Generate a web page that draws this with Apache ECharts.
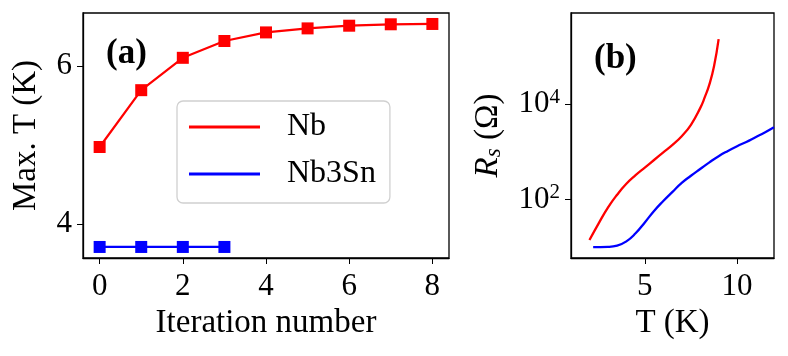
<!DOCTYPE html>
<html>
<head>
<meta charset="utf-8">
<script src="https://cdn.jsdelivr.net/npm/echarts@6/dist/echarts.min.js"></script>
<style>
  html, body { margin: 0; padding: 0; background: #fff; }
  #chart { width: 788px; height: 356px; }
</style>
</head>
<body>
<div id="chart"></div>
<script>
// (a) max temperature per iteration
var iterations = [0, 1, 2, 3, 4, 5, 6, 7, 8];
var maxTNb = [4.975, 5.695, 6.105, 6.318, 6.427, 6.478, 6.512, 6.530, 6.534];
var maxTNb3Sn = [3.708, 3.708, 3.708, 3.708];

// (b) surface resistance vs temperature
var tempNb = [2.0, 2.5, 3.0, 3.5, 4.0, 4.5, 5.0, 5.5, 6.0, 6.5, 7.0, 7.5, 8.0, 8.25, 8.5, 8.75, 9.0];
var rsNb = [14.1, 31.6, 67.6, 126, 214, 324, 468, 676, 977, 1413, 2138, 3715, 8318, 14125, 26300, 63100, 234000];
var tempNb3Sn = [2.2, 3.0, 3.5, 4.0, 4.5, 5.0, 5.5, 6.0, 6.5, 7.0, 7.5, 8.0, 8.5, 9.0, 9.5, 10.0, 10.5, 11.0, 11.5, 12.0];
var rsNb3Sn = [10, 10.1, 10.7, 13.2, 19.5, 33, 57.5, 93, 145, 224, 316, 437, 603, 813, 1047, 1318, 1622, 2042, 2570, 3311];

var xTicksA = [0, 2, 4, 6, 8];
var yTicksA = [4, 6];
var xTicksB = [5, 10];
var yTicksB = [100, 10000];

function pairs(xs, ys) {
  return ys.map(function (v, i) { return [xs[i], v]; });
}

var FONT = 'Liberation Serif';

function initChart() {
  var myChart = echarts.init(document.getElementById('chart'));
  var nameStyle = { fontSize: 33, fontFamily: FONT, color: '#000' };
  var tickLabel = { fontSize: 31, fontFamily: FONT, color: '#000' };
  var option = {
    animation: false,
    textStyle: { fontFamily: FONT, color: '#000' },
    grid: [
      { left: 83, top: 13, width: 366, height: 245, show: true, borderColor: '#000', borderWidth: 1.3 },
      { left: 571, top: 13, width: 203, height: 245, show: true, borderColor: '#000', borderWidth: 1.3 }
    ],
    xAxis: [
      {
        type: 'value', gridIndex: 0, min: -0.4, max: 8.4,
        name: 'Iteration number', nameLocation: 'middle', nameGap: 47,
        nameTextStyle: nameStyle,
        axisLine: { onZero: false, lineStyle: { color: '#000', width: 1.3 } },
        axisTick: { inside: false, length: 6, customValues: xTicksA, lineStyle: { color: '#000' } },
        axisLabel: Object.assign({ customValues: xTicksA, margin: 13 }, tickLabel),
        splitLine: { show: false }
      },
      {
        type: 'value', gridIndex: 1, min: 1, max: 12,
        name: 'T (K)', nameLocation: 'middle', nameGap: 47,
        nameTextStyle: nameStyle,
        axisLine: { onZero: false, lineStyle: { color: '#000', width: 1.3 } },
        axisTick: { inside: false, length: 6, customValues: xTicksB, lineStyle: { color: '#000' } },
        axisLabel: Object.assign({ customValues: xTicksB, margin: 13 }, tickLabel),
        splitLine: { show: false }
      }
    ],
    yAxis: [
      {
        type: 'value', gridIndex: 0, min: 3.568, max: 6.673,
        name: 'Max. T (K)', nameLocation: 'middle', nameGap: 40,
        nameTextStyle: nameStyle,
        axisLine: { onZero: false, lineStyle: { color: '#000', width: 1.3 } },
        axisTick: { inside: false, length: 6, customValues: yTicksA, lineStyle: { color: '#000' } },
        axisLabel: Object.assign({ customValues: yTicksA, margin: 11 }, tickLabel),
        splitLine: { show: false }
      },
      {
        type: 'log', gridIndex: 1, logBase: 10, min: 5.9, max: 8.3e5,
        name: '{it|R}{sub|s} (Ω)', nameLocation: 'middle', nameGap: 66,
        nameTextStyle: {
          fontSize: 33, fontFamily: FONT, color: '#000',
          rich: {
            it: { fontSize: 33, fontFamily: FONT, fontStyle: 'italic' },
            sub: { fontSize: 23, fontFamily: FONT, fontStyle: 'italic', padding: [10, 0, 0, 0] }
          }
        },
        axisLine: { onZero: false, lineStyle: { color: '#000', width: 1.3 } },
        axisTick: { inside: false, length: 6, customValues: yTicksB, lineStyle: { color: '#000' } },
        axisLabel: {
          customValues: yTicksB, fontSize: 31, fontFamily: FONT, color: '#000', margin: 11,
          formatter: function (v) { return '10{sup|' + Math.round(Math.log10(v)) + '}'; },
          rich: { sup: { fontSize: 21, fontFamily: FONT, padding: [0, 0, 14, 0] } }
        },
        splitLine: { show: false }
      }
    ],
    legend: {
      orient: 'vertical',
      left: 177, top: 101,
      padding: [10, 14, 13, 12],
      itemGap: 15,
      itemWidth: 71, itemHeight: 3,
      icon: 'rect',
      backgroundColor: '#fff',
      borderColor: '#d0d0d0', borderWidth: 1.3, borderRadius: 6,
      textStyle: { fontSize: 32, fontFamily: FONT, color: '#000', padding: [0, 0, 0, 22] },
      data: ['Nb', 'Nb3Sn']
    },
    graphic: [
      { type: 'text', left: 106, top: 36, style: { text: '(a)', font: 'bold 35px "Liberation Serif"', fill: '#000' } },
      { type: 'text', left: 594, top: 41, style: { text: '(b)', font: 'bold 35px "Liberation Serif"', fill: '#000' } }
    ],
    series: [
      {
        name: 'Nb', type: 'line', xAxisIndex: 0, yAxisIndex: 0,
        data: pairs(iterations, maxTNb), color: '#ff0000',
        symbol: 'rect', symbolSize: 12, lineStyle: { width: 2.2 }
      },
      {
        name: 'Nb3Sn', type: 'line', xAxisIndex: 0, yAxisIndex: 0,
        data: pairs(iterations, maxTNb3Sn), color: '#0000ff',
        symbol: 'rect', symbolSize: 12, lineStyle: { width: 2.2 }
      },
      {
        name: 'Nb Rs', type: 'line', xAxisIndex: 1, yAxisIndex: 1,
        data: pairs(tempNb, rsNb), color: '#ff0000',
        showSymbol: false, smooth: 0.5, lineStyle: { width: 2.3 }
      },
      {
        name: 'Nb3Sn Rs', type: 'line', xAxisIndex: 1, yAxisIndex: 1,
        data: pairs(tempNb3Sn, rsNb3Sn), color: '#0000ff',
        showSymbol: false, smooth: 0.5, lineStyle: { width: 2.3 }
      }
    ]
  };
  myChart.setOption(option);
}

document.addEventListener('DOMContentLoaded', function () {
  initChart();
});
</script>
</body>
</html>
